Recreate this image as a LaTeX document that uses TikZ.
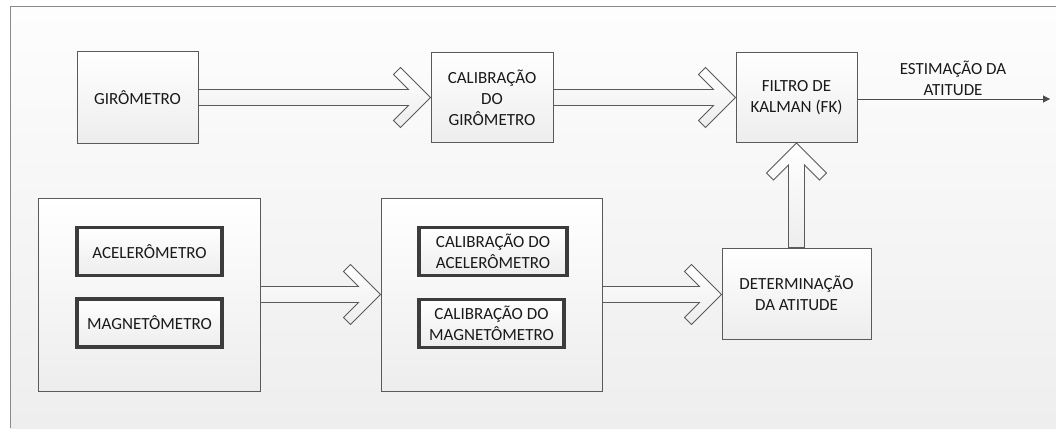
\documentclass[tikz,border=0pt]{standalone}
\usepackage{fontspec}
\setmainfont{Carlito}
\usetikzlibrary{calc,arrows.meta}

\definecolor{edge}{HTML}{5A5A5A}
\definecolor{thickedge}{HTML}{3C3C3C}
\definecolor{framec}{HTML}{8A8A8A}
\definecolor{bgtop}{HTML}{FDFDFD}
\definecolor{bgbot}{HTML}{EEEEEE}
\definecolor{boxbot}{HTML}{EDEDED}

\tikzset{
  txt/.style={font=\fontsize{17}{21}\selectfont, align=center, text=black!90},
  block/.style={txt, draw=edge, line width=1pt, top color=white, bottom color=boxbot,
                inner sep=0pt, minimum width=#1},
  block/.default=121,
  group/.style={draw=edge, line width=1pt, top color=white, bottom color=boxbot,
                inner sep=0pt},
  inner/.style={txt, draw=thickedge, line width=3.5pt, top color=white, bottom color=boxbot,
                inner sep=0pt, minimum height=48},
  fatarr/.style={draw=edge, line width=0.9pt, line join=miter, top color=white, bottom color=boxbot},
  thin/.style={draw=black!70, line width=1pt, -{Triangle[length=7pt,width=7pt]}}
}

\begin{document}
\begin{tikzpicture}[x=1pt, y=-1pt]
  % canvas and frame
  \useasboundingbox (0,0) rectangle (1056,428);
  \fill[top color=bgtop, bottom color=bgbot] (10,7) rectangle (1056,428);
  \draw[framec, line width=1pt] (10,428) -- (10,7) -- (1056,7);

  % top row
  \node[block, minimum height=91] (gyro) at (137.5,97.5) {GIRÔMETRO};
  \node[block=122, minimum height=90] (calg) at (492,97.5) {CALIBRAÇÃO\\DO\\GIRÔMETRO};
  \node[block, minimum height=90] (fk) at (796.5,97.5) {FILTRO DE\\KALMAN (FK)};

  % sensor group
  \node[group, minimum width=222, minimum height=193] (sens) at (149,294.5) {};
  \node[inner, minimum width=145] (acc) at (149.5,251.5) {ACELERÔMETRO};
  \node[inner, minimum width=145] (mag) at (149.5,323) {MAGNETÔMETRO};

  % calibration group
  \node[group, minimum width=221, minimum height=193] (cal) at (491.5,294.5) {};
  \node[inner, minimum width=148] (cacc) at (493,251.5) {CALIBRAÇÃO DO\\ACELERÔMETRO};
  \node[inner, minimum width=145] (cmag) at (491.5,323.5) {CALIBRAÇÃO DO\\MAGNETÔMETRO};

  % attitude determination
  \node[block=149, minimum height=91] (det) at (796.5,293.5) {DETERMINAÇÃO\\DA ATITUDE};

  % hollow block arrows, left to right
  \foreach \a/\b in {gyro/calg, calg/fk, sens/cal, cal/det}{
    \path[fatarr] let \p1=(\a.east), \p2=(\b.west) in
      (\x1,\y1+8pt) -- (\x2-22pt,\y1+8pt) -- (\x2-37pt,\y1+23pt) -- (\x2-30pt,\y1+30pt)
      -- (\x2,\y1) -- (\x2-30pt,\y1-30pt) -- (\x2-37pt,\y1-23pt) -- (\x2-22pt,\y1-8pt)
      -- (\x1,\y1-8pt) -- cycle;
  }

  % hollow block arrow, upwards into the filter
  \path[fatarr] let \p1=(det.north), \p2=(fk.south) in
    (\x1-8pt,\y1) -- (\x1-8pt,\y2-22pt) -- (\x1-23pt,\y2-37pt) -- (\x1-30pt,\y2-30pt)
    -- (\x1,\y2) -- (\x1+30pt,\y2-30pt) -- (\x1+23pt,\y2-37pt) -- (\x1+8pt,\y2-22pt)
    -- (\x1+8pt,\y1) -- cycle;

  % output
  \coordinate (out) at (1050,99);
  \draw[thin] (fk.east |- out) -- (out);
  \node[txt] (outlbl) at (953,78.5) {ESTIMAÇÃO DA\\ATITUDE};
\end{tikzpicture}
\end{document}
